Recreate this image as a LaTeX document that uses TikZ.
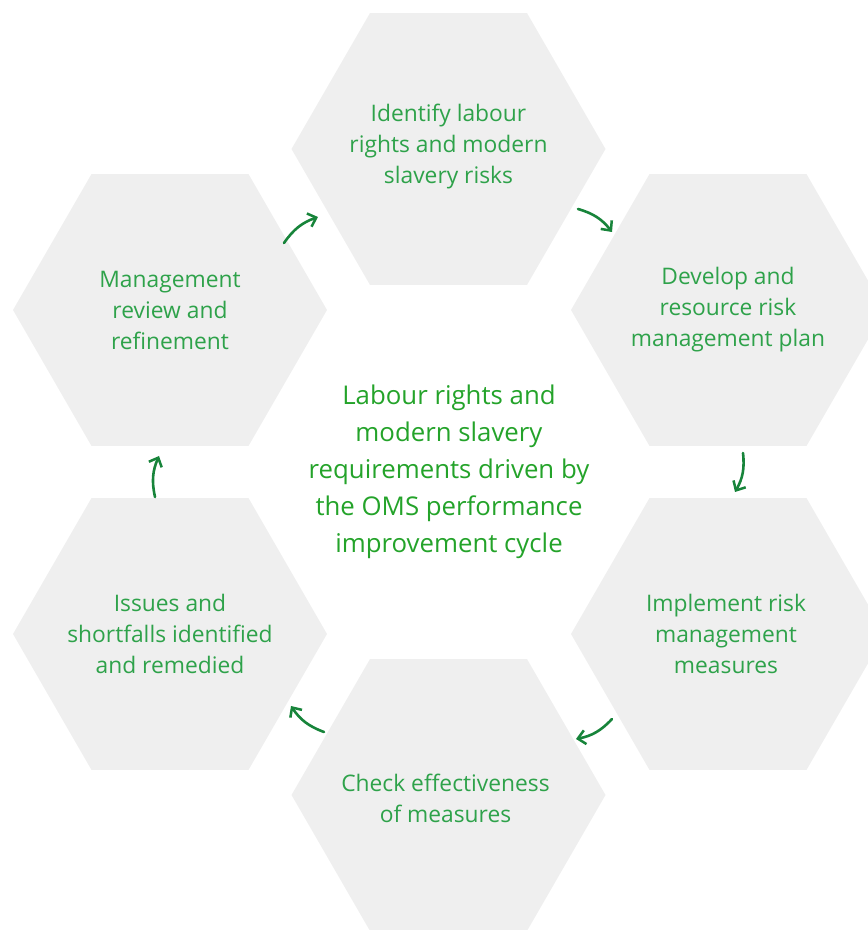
\documentclass[tikz,border=0pt]{standalone}
\usepackage{fontspec}
\setmainfont{Open Sans}
\usetikzlibrary{shapes.geometric,arrows.meta}
\definecolor{hexgrey}{HTML}{EFEFEF}
\definecolor{txtgreen}{HTML}{2EA24A}
\definecolor{midgreen}{HTML}{24A32A}
\definecolor{arrgreen}{HTML}{17843A}
\tikzset{
  hexbox/.style={regular polygon, regular polygon sides=6, minimum size=314pt,
    inner sep=0pt, fill=hexgrey, draw=none},
  hextext/.style={text=txtgreen, align=center, inner sep=0pt,
    font=\fontsize{22.8}{31}\selectfont},
  cycarrow/.style={draw=arrgreen, line width=2.6pt, line cap=round,
    -{Straight Barb[length=7.5pt,width=14pt,line width=2.5pt]}, bend left=18},
  centertext/.style={text=midgreen, align=center, font=\fontsize{25.8}{37}\selectfont}
}
\begin{document}
\begin{tikzpicture}[x=1pt,y=1pt]
\useasboundingbox (0,0) rectangle (868,930);
\clip (0,0) rectangle (868,930);
\node[hexbox] (top) at (448.5,781) {};
\node[hexbox] (ur) at (728,620) {};
\node[hexbox] (lr) at (728,296) {};
\node[hexbox] (bot) at (448.5,135) {};
\node[hexbox] (ll) at (170,296) {};
\node[hexbox] (ul) at (170,620) {};
\node[hextext] (topt) at ([yshift=2pt]top.center) {Identify labour\\rights and modern\\slavery risks};
\node[hextext] (urt) at (ur.center) {Develop and\\resource risk\\management plan};
\node[hextext] (lrt) at ([xshift=-2pt]lr.center) {Implement risk\\management\\measures};
\node[hextext] (bott) at ([xshift=-3pt,yshift=-3pt]bot.center) {Check effectiveness\\of measures};
\node[hextext] (llt) at (ll.center) {Issues and\\shortfalls identified\\and remedied};
\node[hextext] (ult) at (ul.center) {Management\\review and\\refinement};
\node[centertext] (mid) at (449,458) {Labour rights and\\modern slavery\\requirements driven by\\the OMS performance\\improvement cycle};
\coordinate (a1s) at (284,687); \coordinate (a1e) at (318,713);
\coordinate (a2s) at (578,721); \coordinate (a2e) at (612,698);
\coordinate (a3s) at (743,477); \coordinate (a3e) at (735,438);
\coordinate (a4s) at (612,211); \coordinate (a4e) at (576,191);
\coordinate (a5s) at (324,198); \coordinate (a5e) at (291,224);
\coordinate (a6s) at (155,433); \coordinate (a6e) at (159,474);
\draw[cycarrow] (a1s) to (a1e);
\draw[cycarrow] (a2s) to (a2e);
\draw[cycarrow] (a3s) to (a3e);
\draw[cycarrow] (a4s) to (a4e);
\draw[cycarrow] (a5s) to (a5e);
\draw[cycarrow] (a6s) to (a6e);
\end{tikzpicture}
\end{document}
